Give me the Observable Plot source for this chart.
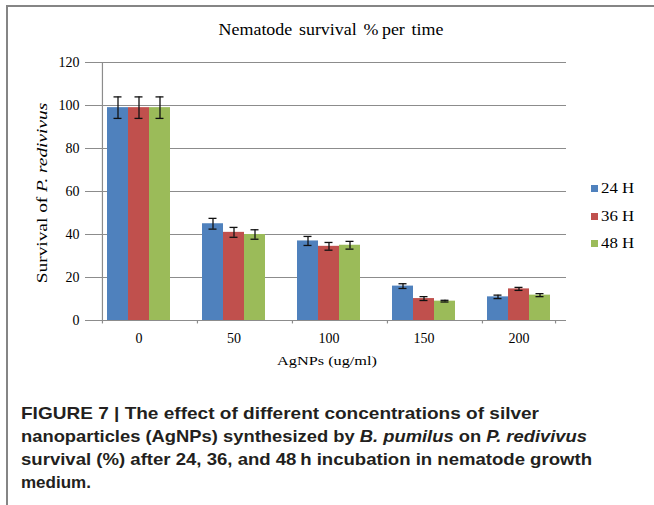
<!DOCTYPE html>
<html><head><meta charset="utf-8">
<script src="https://cdn.jsdelivr.net/npm/d3@7"></script>
<script src="https://cdn.jsdelivr.net/npm/@observablehq/plot@0.6"></script>
<style>
body{margin:0;background:#fff;}
#wrap{position:relative;width:654px;height:505px;overflow:hidden;background:#fff;font-family:"Liberation Serif","Times New Roman",serif;color:#000;}
#frame{position:absolute;left:6px;top:5px;width:700px;height:600px;border-left:2px solid #858585;border-top:2px solid #858585;}
#chart{position:absolute;left:0;top:0;}
#chart svg text{font-family:"Liberation Serif","Times New Roman",serif;}
#title{position:absolute;left:331px;top:30px;transform:translate(-50%,-50%) scaleX(1.12);font-size:16px;white-space:nowrap;word-spacing:2px;}
#xlabel{position:absolute;left:327px;top:361px;transform:translate(-50%,-50%) scaleX(1.25);font-size:13px;white-space:nowrap;}
#ylabel{position:absolute;left:43px;top:193px;transform:translate(-50%,-50%) rotate(-90deg) scaleX(1.38);font-size:14px;white-space:nowrap;}
#legend{position:absolute;left:591px;top:0;}
.li{position:absolute;left:0;white-space:nowrap;font-size:14px;transform:translateY(-50%);}
.sw{display:inline-block;width:7px;height:7px;margin-right:3px;vertical-align:1px;}
.li span.t{display:inline-block;transform:scaleX(1.2);transform-origin:left center;}
#caption{position:absolute;left:21px;top:402px;font-family:"Liberation Sans",Arial,sans-serif;font-weight:bold;font-size:17px;line-height:23px;color:#231f20;}
#caption div{white-space:nowrap;transform-origin:left center;}
</style></head>
<body>
<div id="wrap">
  <div id="frame"></div>
  <div id="chart"></div>
  <div id="title">Nematode survival %&#8201;per time</div>
  <div id="xlabel">AgNPs (ug/ml)</div>
  <div id="ylabel">Survival of <i>P. redivivus</i></div>
  <div id="legend"></div>
  <div id="caption">
    <div data-w="518">FIGURE 7 | The effect of different concentrations of silver</div>
    <div data-w="566">nanoparticles (AgNPs) synthesized by <i>B. pumilus</i> on <i>P. redivivus</i></div>
    <div data-w="571">survival (%) after 24, 36, and 48&#8201;h incubation in nematode growth</div>
    <div>medium.</div>
  </div>
</div>
<script>
const concentrations = ["0", "50", "100", "150", "200"];
const series = ["24 H", "36 H", "48 H"];
const survival24 = [99, 45, 37, 16, 11];
const survival36 = [99, 41, 34.5, 10.2, 14.7];
const survival48 = [99, 40, 35, 9, 11.8];
const error24 = [5, 2.5, 2.1, 1.1, 0.8];
const error36 = [5, 2.3, 1.8, 0.9, 0.7];
const error48 = [5, 2.2, 1.8, 0.4, 0.7];
const colors = ["#4F81BD", "#C0504D", "#9BBB59"];
const yTicks = [0, 20, 40, 60, 80, 100, 120];

const values = [survival24, survival36, survival48];
const errors = [error24, error36, error48];
const rows = [];
concentrations.forEach((c, i) => series.forEach((s, j) => rows.push({conc: c, series: s, value: values[j][i], err: errors[j][i]})));

// layout
const W = 654, H = 380, mL = 91, mR = 88, mT = 62, mB = 60;
const padOuter = 0.73;
const facetW = (W - mL - mR) / concentrations.length;
const step = facetW / (series.length + 2 * padOuter);
const firstBandStart = padOuter * step;

const grid = "#8c8c8c";
const chart = Plot.plot({
  width: W, height: H, marginLeft: mL, marginRight: mR, marginTop: mT, marginBottom: mB,
  style: {background: "transparent", fontFamily: "'Liberation Serif', 'Times New Roman', serif", fontSize: "14px", color: "#000", overflow: "visible"},
  fx: {domain: concentrations, padding: 0, label: null, tickSize: 0, tickPadding: 13},
  x: {domain: series, paddingInner: 0, paddingOuter: padOuter, axis: null},
  y: {domain: [0, 120], axis: null, label: null},
  color: {domain: series, range: colors},
  marks: [
    Plot.ruleY(yTicks, {stroke: grid, strokeWidth: 1.2}),
    Plot.axisY({ticks: yTicks, tickSize: 6, tickPadding: 6, stroke: grid, fontSize: 14, label: null}),
    Plot.ruleX([0], {fx: () => concentrations[0], x: () => series[0], dx: -firstBandStart, y1: 0, y2: 120, stroke: grid, strokeWidth: 1.2}),
    Plot.ruleX(concentrations, {fx: d => d, x: () => series[0], dx: -firstBandStart, y1: 0, y2: -1.6, stroke: grid, strokeWidth: 1.2}),
    Plot.ruleX([0], {fx: () => concentrations[concentrations.length - 1], x: () => series[series.length - 1], dx: firstBandStart, y1: 0, y2: -1.6, stroke: grid, strokeWidth: 1.2}),
    Plot.barY(rows, {fx: "conc", x: "series", y: "value", fill: "series"}),
    Plot.ruleX(rows, {fx: "conc", x: "series", y1: d => d.value - d.err, y2: d => d.value + d.err, stroke: "#111", strokeWidth: 1.3}),
    Plot.tickY(rows, {fx: "conc", x: "series", y: d => d.value + d.err, stroke: "#111", strokeWidth: 1.3, insetLeft: 6.5, insetRight: 6.5}),
    Plot.tickY(rows, {fx: "conc", x: "series", y: d => d.value - d.err, stroke: "#111", strokeWidth: 1.3, insetLeft: 6.5, insetRight: 6.5})
  ]
});
document.getElementById("chart").appendChild(chart);

// legend
const legend = document.getElementById("legend");
const legendY = [189, 217, 244];
series.forEach((s, i) => {
  const d = document.createElement("div");
  d.className = "li";
  d.style.top = legendY[i] + "px";
  d.innerHTML = `<span class="sw" style="background:${colors[i]}"></span><span class="t">${s}</span>`;
  legend.appendChild(d);
});

// fit caption lines to widths
document.querySelectorAll("#caption div[data-w]").forEach(el => {
  const span = document.createElement("span");
  span.innerHTML = el.innerHTML; el.innerHTML = ""; el.appendChild(span);
  span.style.display = "inline-block";
  const sw = span.getBoundingClientRect().width;
  span.style.transformOrigin = "left center";
  span.style.transform = `scaleX(${(+el.dataset.w / sw).toFixed(4)})`;
});
</script>
</body></html>
